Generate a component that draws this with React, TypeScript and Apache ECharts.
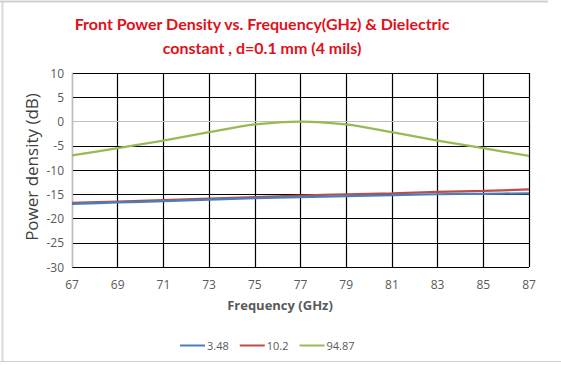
import React, { useEffect, useRef } from "react";
import * as echarts from "echarts";

const frequencies = ["67", "69", "71", "73", "75", "77", "79", "81", "83", "85", "87"];
const s348 = [-17.0, -16.7, -16.4, -16.1, -15.8, -15.6, -15.4, -15.2, -15.0, -14.9, -14.8];
const s102 = [-16.8, -16.5, -16.2, -15.9, -15.6, -15.3, -15.0, -14.8, -14.5, -14.3, -14.0];
const s9487 = [-7.0, -5.5, -3.95, -2.2, -0.6, 0, -0.6, -2.2, -3.95, -5.5, -7.1];
const seriesNames = ["3.48", "10.2", "94.87"];
const colors = ["#4A7EBB", "#BE4B48", "#98B954"];

export default function App() {
  const ref = useRef<HTMLDivElement>(null);
  useEffect(() => {
    const chart = echarts.init(ref.current!, null, { renderer: "svg" });
    const data = [s348, s102, s9487];
    chart.setOption({
      animation: false,
      backgroundColor: "#ffffff",
      title: {
        text: "Front Power Density vs. Frequency(GHz) & Dielectric\nconstant , d=0.1 mm (4 mils)",
        left: 257,
        top: 6,
        textAlign: "center",
        textStyle: {
          color: "#E0101A",
          fontFamily: "Lato",
          fontWeight: "bold",
          fontSize: 16,
          lineHeight: 24,
        },
      },
      legend: {
        data: seriesNames,
        left: 175,
        top: 335,
        itemWidth: 25,
        itemHeight: 2,
        itemGap: 11,
        icon: "rect",
        textStyle: { color: "#595959", fontSize: 11, fontFamily: "Open Sans", padding: [0, 0, 0, -3] },
      },
      grid: { left: 72, right: 32, top: 73, bottom: 98 },
      xAxis: {
        type: "category",
        data: frequencies,
        boundaryGap: false,
        axisLine: { lineStyle: { color: "#BFBFBF", width: 1 } },
        axisTick: { show: false },
        axisLabel: { color: "#595959", fontSize: 12, fontFamily: "Open Sans", margin: 11 },
        splitLine: { show: true, lineStyle: { color: "#000000", width: 1.2 } },
      },
      yAxis: {
        type: "value",
        min: -30,
        max: 10,
        interval: 5,
        axisLine: { show: true, lineStyle: { color: "#BFBFBF", width: 1 } },
        axisTick: { show: false },
        axisLabel: { color: "#595959", fontSize: 12, fontFamily: "Open Sans", margin: 8 },
        splitLine: { show: true, lineStyle: { color: "#000000", width: 1.2 } },
      },
      series: seriesNames.map((name, i) => ({
        name,
        type: "line",
        data: data[i],
        smooth: 0.3,
        symbol: "none",
        lineStyle: { color: colors[i], width: 2.25 },
        itemStyle: { color: colors[i] },
        z: 3 + (2 - i),
      })),
      graphic: [
        {
          type: "text",
          x: 31,
          y: 167,
          rotation: Math.PI / 2,
          style: {
            text: "Power density (dB)",
            fill: "#404040",
            fontSize: 17,
            fontFamily: "Open Sans",
            align: "center",
            verticalAlign: "middle",
          },
        },
        {
          type: "text",
          x: 280,
          y: 305,
          style: {
            text: "Frequency (GHz)",
            fill: "#595959",
            fontSize: 13,
            fontWeight: "bold",
            fontFamily: "Open Sans",
            align: "center",
            verticalAlign: "middle",
          },
        },
        { type: "line", shape: { x1: 2.5, y1: 2, x2: 2.5, y2: 361 }, style: { stroke: "#D9D9D9", lineWidth: 2 } },
        { type: "line", shape: { x1: 0, y1: 1.5, x2: 548, y2: 1.5 }, style: { stroke: "#D0D0D0", lineWidth: 2 } },
        { type: "line", shape: { x1: 0, y1: 361.5, x2: 561, y2: 361.5 }, style: { stroke: "#D0D0D0", lineWidth: 1 } },
      ],
    });
    return () => chart.dispose();
  }, []);
  return (
    <div
      ref={ref}
      style={{ position: "fixed", left: 0, top: 0, width: 561, height: 365 }}
    />
  );
}
